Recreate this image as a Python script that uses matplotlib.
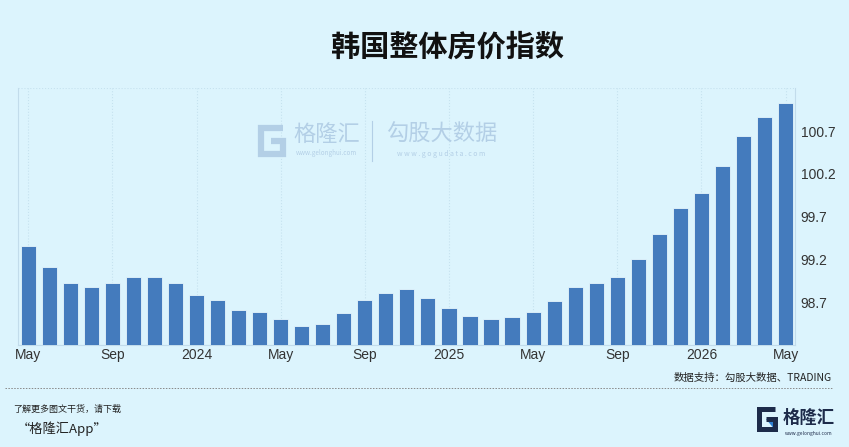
import matplotlib
matplotlib.use("Agg")
import matplotlib.pyplot as plt
from matplotlib.patches import Polygon
import numpy as np

plt.rcParams['font.family'] = ['Noto Sans CJK SC', 'DejaVu Sans']

# 2023-05 ~ 2026-05 月度数据
months = ['2023-05', '2023-06', '2023-07', '2023-08', '2023-09', '2023-10', '2023-11', '2023-12',
          '2024-01', '2024-02', '2024-03', '2024-04', '2024-05', '2024-06', '2024-07', '2024-08',
          '2024-09', '2024-10', '2024-11', '2024-12', '2025-01', '2025-02', '2025-03', '2025-04',
          '2025-05', '2025-06', '2025-07', '2025-08', '2025-09', '2025-10', '2025-11', '2025-12',
          '2026-01', '2026-02', '2026-03', '2026-04', '2026-05']
values = [99.36, 99.11, 98.93, 98.88, 98.93, 98.99, 98.99, 98.92,
          98.79, 98.72, 98.61, 98.58, 98.50, 98.42, 98.45, 98.57,
          98.72, 98.81, 98.85, 98.75, 98.63, 98.54, 98.50, 98.53,
          98.58, 98.71, 98.88, 98.93, 98.99, 99.20, 99.50, 99.80,
          99.98, 100.29, 100.64, 100.86, 101.03]
xtick_pos = [0, 4, 8, 12, 16, 20, 24, 28, 32, 36]
xtick_labels = ['May', 'Sep', '2024', 'May', 'Sep', '2025', 'May', 'Sep', '2026', 'May']
ytick_vals = [98.7, 99.2, 99.7, 100.2, 100.7]

bg = '#dcf4fd'
bar_c = '#447bbd'
grid_c = '#c6e2ef'
W, H = 849, 447


def px(x, y):
    # 像素坐标 -> figure坐标
    return x / W, 1 - y / H


def g_logo(fig, x0, y0, w, h, color, lw, accent=None):
    # 简单画一个G形图标
    pts = [(x0 + w, y0), (x0, y0), (x0, y0 + h), (x0 + w, y0 + h), (x0 + w, y0 + h * 0.5), (x0 + w * 0.45, y0 + h * 0.5)]
    xs, ys = zip(*[px(a, b) for a, b in pts])
    fig.add_artist(plt.Line2D(xs, ys, transform=fig.transFigure, color=color, linewidth=lw,
                              solid_joinstyle='miter', solid_capstyle='butt'))
    if accent is not None:
        tri = [px(x0 + w * 0.45, y0 + h * 0.5), px(x0 + w, y0 + h * 0.5), px(x0 + w, y0 + h * 1.05)]
        fig.add_artist(Polygon(tri, closed=True, transform=fig.transFigure, color=accent, lw=0))


fig = plt.figure(figsize=(8.49, 4.47), dpi=100, facecolor=bg)
ax = fig.add_axes([0.0216, 0.2282, 0.9148, 0.5743])
ax.set_facecolor(bg)

x = np.arange(len(values))
ax.bar(x, values, width=0.72, color=bar_c, edgecolor='#e6f6fd', linewidth=0.6, zorder=3)

ax.set_xlim(-0.47, 36.45)
ax.set_ylim(98.2, 101.2)

# 网格
ax.set_yticks(np.arange(98.2, 101.21, 0.5), minor=True)
ax.set_yticks(ytick_vals)
ax.set_yticklabels(['%.1f' % v for v in ytick_vals])
ax.set_xticks(xtick_pos)
ax.set_xticklabels(xtick_labels)
ax.grid(True, which='minor', axis='y', color=grid_c, linestyle=':', linewidth=0.8, zorder=0)
ax.grid(True, which='major', axis='x', color=grid_c, linestyle=':', linewidth=0.8, zorder=0)

ax.yaxis.tick_right()
ax.tick_params(axis='y', which='both', length=0, labelsize=10, labelcolor='#333333', pad=4)
ax.tick_params(axis='x', length=0, labelsize=10, labelcolor='#333333', pad=2)
for lab in ax.get_xticklabels() + ax.get_yticklabels():
    lab.set_family(['Liberation Sans', 'DejaVu Sans'])

for s in ['left', 'right', 'bottom']:
    ax.spines[s].set_color('#c2dceb')
    ax.spines[s].set_linewidth(0.8)
ax.spines['top'].set_visible(False)

# 标题
fig.text(0.527, 0.895, '韩国整体房价指数', ha='center', va='center', fontsize=21, fontweight='bold', color='#111111')

# 水印
wm = '#b3cfe6'
g_logo(fig, 261, 128, 22, 26, wm, 4.5)
fig.text(0.385, 0.700, '格隆汇', ha='center', va='center', fontsize=16, color=wm)
fig.text(0.385, 0.658, 'www.gelonghui.com', ha='center', va='center', fontsize=4.5, color=wm)
fig.add_artist(plt.Line2D([0.4385, 0.4385], [0.64, 0.73], transform=fig.transFigure, color=wm, linewidth=0.8))
fig.text(0.52, 0.700, '勾股大数据', ha='center', va='center', fontsize=16, color=wm)
fig.text(0.52, 0.655, 'w w w . g o g u d a t a . c o m', ha='center', va='center', fontsize=5, color=wm)

# 数据来源
fig.text(0.980, 0.154, '数据支持：勾股大数据、TRADING', ha='right', va='center', fontsize=7.5, color='#222222')
fig.add_artist(plt.Line2D([0.006, 0.981], [0.132, 0.132], transform=fig.transFigure,
                          color='#888888', linewidth=0.7, linestyle=(0, (1.5, 1.5))))

# 底部
fig.text(0.016, 0.085, '了解更多图文干货，请下载', ha='left', va='center', fontsize=6.5, style='italic', color='#222222')
fig.text(0.020, 0.040, '“格隆汇App”', ha='left', va='center', fontsize=9.5, style='italic', color='#222222')
g_logo(fig, 759, 409, 16, 20, '#1d2b4a', 3.6, accent='#2f7fd0')
fig.text(0.953, 0.066, '格隆汇', ha='center', va='center', fontsize=12.5, fontweight='bold', color='#1d2b4a')
fig.text(0.953, 0.030, 'www.gelonghui.com', ha='center', va='center', fontsize=3.5, color='#1d2b4a')

fig.savefig('out.png', dpi=100, facecolor=bg)
